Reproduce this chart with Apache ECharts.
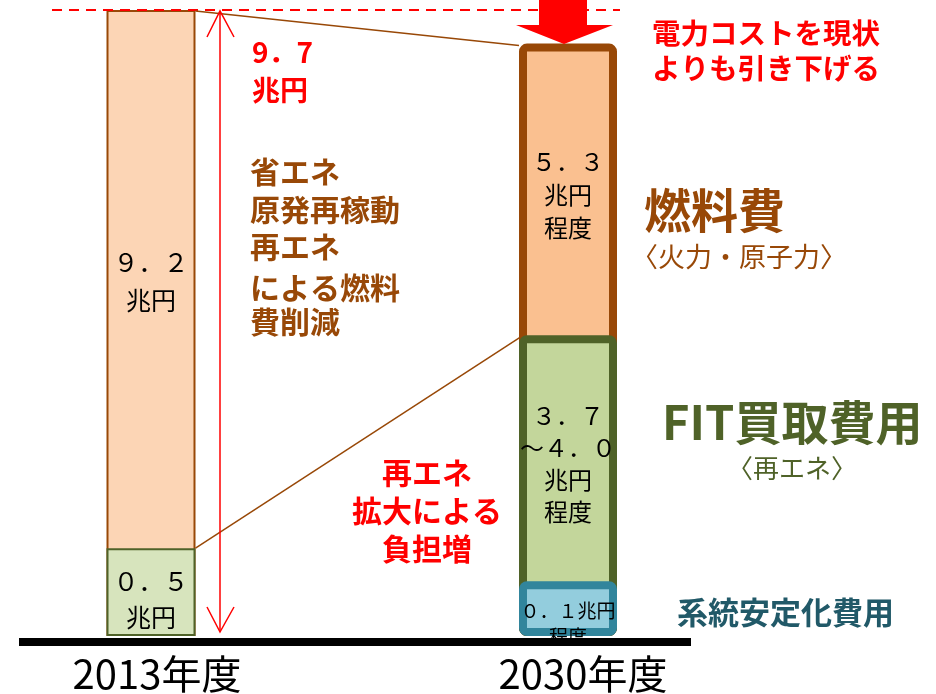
<!DOCTYPE html>
<html>
<head>
<meta charset="utf-8">
<script src="https://cdn.jsdelivr.net/npm/echarts@6/dist/echarts.min.js"></script>
<style>
  html, body { margin: 0; padding: 0; background: #fff; }
  #chart { width: 936px; height: 694px; }
</style>
</head>
<body>
<div id="chart"></div>
<script>
// 年度
const categories = ['2013年度', '2030年度']
// 描かれた棒の高さ（図から読み取り、2013年度の全高 = 9.7）
const stabilization = [0, 0.85]
const fitCost = [1.36, 3.81]
const fuelCost = [8.34, 4.52]
// 棒の中のラベル
const stabLabels = ['', '０．１兆円\n程度']
const fitLabels = ['０．５\n兆円', '３．７\n～４．０\n兆円\n程度']
const fuelLabels = ['９．２\n兆円', '５．３\n兆円\n程度']
const yMax = 9.7

const FONT = '"Noto Sans CJK JP", "Noto Sans", sans-serif'
const chart = echarts.init(document.getElementById('chart'))

// 重ねて描くので、各区分の上端までの累積値を使う
const cumStab = stabilization.map(v => v)
const cumFit = fitCost.map((v, i) => v + stabilization[i])
const cumFuel = fuelCost.map((v, i) => v + cumFit[i])

function lbl(text, size, lh, dist) {
  return {
    show: true, position: 'insideTop', distance: dist, formatter: text, color: '#000',
    fontFamily: FONT, fontSize: size, lineHeight: lh, textBorderWidth: 0
  }
}

const thin = { barWidth: 89, barGap: '-100%' }
const thick = { barWidth: 98, barGap: '-100%' }

chart.setOption({
  animation: false,
  grid: [
    { left: 101, width: 100, top: 10, bottom: 57 },
    { left: 518, width: 100, top: 10, bottom: 57 }
  ],
  xAxis: categories.map((c, i) => ({
    type: 'category', gridIndex: i, data: [c],
    axisLine: { show: false }, axisTick: { show: false },
    axisLabel: { fontSize: 40, color: '#000', fontFamily: FONT, margin: 18, padding: [0, 0, 0, i ? 30 : 12] }
  })),
  yAxis: categories.map((c, i) => ({
    type: 'value', gridIndex: i, min: 0, max: yMax, show: false
  })),
  series: [
    Object.assign({
      type: 'bar', xAxisIndex: 0, yAxisIndex: 0, z: 2,
      data: [cumFuel[0]],
      itemStyle: { color: '#FCD5B5', borderColor: '#984807', borderWidth: 2 },
      label: lbl(fuelLabels[0], 25, 38, 233)
    }, thin),
    Object.assign({
      type: 'bar', xAxisIndex: 0, yAxisIndex: 0, z: 3,
      data: [cumFit[0]],
      itemStyle: { color: '#D7E4BD', borderColor: '#4F6228', borderWidth: 2 },
      label: lbl(fitLabels[0], 25, 36, 15)
    }, thin),
    Object.assign({
      type: 'bar', xAxisIndex: 1, yAxisIndex: 1, z: 2,
      data: [cumFuel[1]],
      itemStyle: { color: '#FAC090', borderColor: '#984807', borderWidth: 8, borderRadius: 4 },
      label: lbl(fuelLabels[1], 24, 33, 102)
    }, thick),
    Object.assign({
      type: 'bar', xAxisIndex: 1, yAxisIndex: 1, z: 3,
      data: [cumFit[1]],
      itemStyle: { color: '#C3D69B', borderColor: '#4F6228', borderWidth: 8, borderRadius: 4 },
      label: lbl(fitLabels[1], 24, 32, 65)
    }, thick),
    Object.assign({
      type: 'bar', xAxisIndex: 1, yAxisIndex: 1, z: 4,
      data: [cumStab[1]],
      itemStyle: { color: '#93CDDD', borderColor: '#31859C', borderWidth: 8, borderRadius: 4 },
      label: lbl(stabLabels[1], 19, 26, 17)
    }, thick)
  ]
})

// 棒の角の位置を軸から求める
const px = (i, v) => chart.convertToPixel({ xAxisIndex: i, yAxisIndex: i }, [0, v])
const top2013 = px(0, cumFuel[0])
const mid2013 = px(0, cumFit[0])
const top2030 = px(1, cumFuel[1])
const mid2030 = px(1, cumFit[1])
const base = px(0, 0)
const r2013 = top2013[0] + 44.5
const l2030 = top2030[0] - 49
const arrowX = 220

function txt(x, y, text, size, color, weight, align, lh) {
  lh = lh || Math.round(size * 1.3)
  return {
    type: 'text', x: x, y: y - lh / 2, z: 50,
    style: {
      text: text, fill: color, textAlign: align || 'left', textVerticalAlign: 'top',
      font: (weight || 'normal') + ' ' + size + 'px ' + FONT, lineHeight: lh
    }
  }
}

chart.setOption({
  graphic: [
    // 上端の赤い点線
    { type: 'line', z: 40, shape: { x1: 52, y1: top2013[1], x2: 620, y2: top2013[1] },
      style: { stroke: '#FF0000', lineWidth: 2, lineDash: [10, 7] } },
    // 棒をつなぐ線
    { type: 'line', z: 40, shape: { x1: r2013, y1: top2013[1] + 1, x2: l2030, y2: top2030[1] + 2 },
      style: { stroke: '#984807', lineWidth: 1.5 } },
    { type: 'line', z: 40, shape: { x1: r2013, y1: mid2013[1], x2: l2030 + 1, y2: mid2030[1] + 2 },
      style: { stroke: '#984807', lineWidth: 1.5 } },
    // 9.7兆円の矢印
    { type: 'line', z: 40, shape: { x1: arrowX, y1: top2013[1] + 1, x2: arrowX, y2: base[1] - 4 },
      style: { stroke: '#FF0000', lineWidth: 1.5 } },
    { type: 'polyline', z: 40, shape: { points: [[arrowX - 13, top2013[1] + 27], [arrowX, top2013[1] + 1], [arrowX + 14, top2013[1] + 27]] },
      style: { stroke: '#FF0000', lineWidth: 1.5, fill: null } },
    { type: 'polyline', z: 40, shape: { points: [[arrowX - 13, base[1] - 29], [arrowX, base[1] - 4], [arrowX + 14, base[1] - 29]] },
      style: { stroke: '#FF0000', lineWidth: 1.5, fill: null } },
    // 下向きの太い矢印
    { type: 'polygon', z: 40, shape: { points: [[539, 0], [587, 0], [587, 25], [613, 25], [564, 44], [516, 25], [539, 25]] },
      style: { fill: '#FF0000' } },
    // 基準線
    { type: 'rect', z: 100, shape: { x: 19, y: 638, width: 672, height: 8 }, style: { fill: '#000' } },
    // 注記
    txt(252, 52, '9．7', 28, '#FF0000', 'bold'),
    txt(252, 90, '兆円', 28, '#FF0000', 'bold'),
    txt(652, 33, '電力コストを現状\nよりも引き下げる', 28.5, '#FF0000', 'bold', 'left', 35),
    txt(250, 172, '省エネ\n原発再稼動\n再エネ', 30, '#984807', 'bold', 'left', 37.5),
    txt(250, 288, 'による燃料\n費削減', 30, '#984807', 'bold', 'left', 34),
    txt(427, 473, '再エネ\n拡大による\n負担増', 30, '#FF0000', 'bold', 'center', 38),
    txt(644, 210, '燃料費', 47, '#984807', 'bold'),
    txt(631, 257, '〈火力・原子力〉', 27, '#984807', 'normal'),
    txt(662, 422, 'FIT買取費用', 47, '#4F6228', 'bold'),
    txt(727, 468, '〈再エネ〉', 26, '#4F6228', 'normal'),
    txt(677, 612, '系統安定化費用', 31, '#215968', 'bold')
  ]
})
</script>
</body>
</html>
